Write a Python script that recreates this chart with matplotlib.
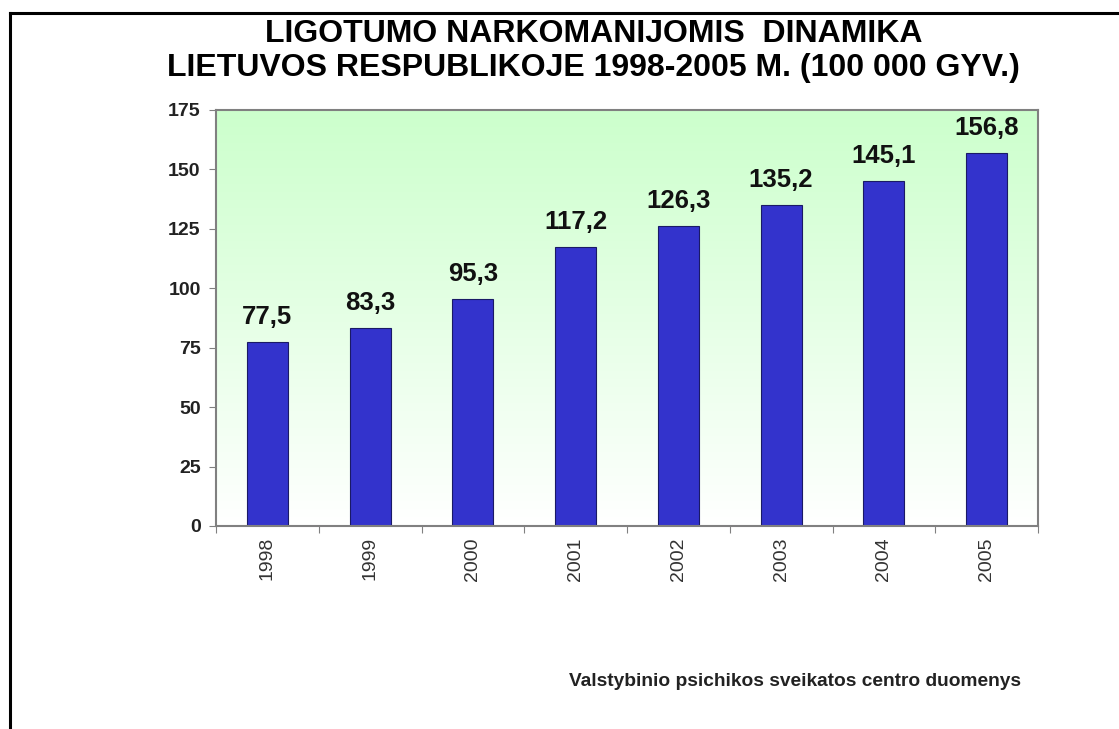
import numpy as np
import matplotlib.pyplot as plt
from matplotlib.colors import LinearSegmentedColormap

# Duomenys
metai = ['1998', '1999', '2000', '2001', '2002', '2003', '2004', '2005']
reiksmes = [77.5, 83.3, 95.3, 117.2, 126.3, 135.2, 145.1, 156.8]
reiksmiu_tekstai = ['77,5', '83,3', '95,3', '117,2', '126,3', '135,2', '145,1', '156,8']
y_ticks = [0, 25, 50, 75, 100, 125, 150, 175]

plt.rcParams['font.family'] = ['Liberation Sans', 'DejaVu Sans']

W, H = 1119, 729
fig = plt.figure(figsize=(W / 100, H / 100), dpi=100)

# Rėmelis (tik viršus ir kairė)
fig.add_artist(plt.Line2D([10 / W, 10 / W], [0, 1 - 13 / H], color='black', lw=2.2))
fig.add_artist(plt.Line2D([10 / W, 1], [1 - 13 / H, 1 - 13 / H], color='black', lw=2.2))

ax = fig.add_axes([216 / W, 1 - 526 / H, (1038 - 216) / W, (526 - 110) / H])

# Gradientinis fonas: šviesiai žalia viršuje -> balta apačioje
cmap = LinearSegmentedColormap.from_list('g', ['#ffffff', '#ccffcc'])
grad = np.linspace(0, 1, 256).reshape(-1, 1)
ax.imshow(grad, cmap=cmap, aspect='auto', extent=[-0.5, len(metai) - 0.5, 0, 175],
          origin='lower', zorder=0)

x = np.arange(len(metai))
ax.bar(x, reiksmes, width=0.4, color='#3333cc', edgecolor='#1a1a66', linewidth=0.8, zorder=2)

for xi, v, t in zip(x, reiksmes, reiksmiu_tekstai):
    ax.annotate(t, (xi, v), xytext=(0, 13), textcoords='offset points', ha='center',
                va='baseline', fontsize=18.5, fontweight='bold', color='#111111')

ax.set_xlim(-0.5, len(metai) - 0.5)
ax.set_ylim(0, 175)
ax.set_yticks(y_ticks)
ax.set_yticklabels([str(t) for t in y_ticks], fontsize=14, fontweight='bold', color='#222222')

# x žymės tarp kategorijų, etiketės centre
ax.set_xticks(np.arange(-0.5, len(metai) + 0.5, 1))
ax.set_xticklabels([])
ax.set_xticks(x, minor=True)
ax.set_xticklabels(metai, minor=True, rotation=90, fontsize=14, color='#333333')
ax.tick_params(axis='x', which='minor', length=0, pad=8)
ax.tick_params(axis='x', which='major', length=5, color='#808080', direction='out')
ax.tick_params(axis='y', length=5, color='#808080', direction='out', pad=6)

for s in ax.spines.values():
    s.set_color('#808080')
    s.set_linewidth(1.5)

fig.text(594 / W, 1 - 42 / H, 'LIGOTUMO NARKOMANIJOMIS  DINAMIKA', ha='center', va='baseline',
         fontsize=23, fontweight='bold')
fig.text(593 / W, 1 - 76 / H, 'LIETUVOS RESPUBLIKOJE 1998-2005 M. (100 000 GYV.)', ha='center',
         va='baseline', fontsize=23, fontweight='bold')

fig.text(1021 / W, 1 - 686 / H, 'Valstybinio psichikos sveikatos centro duomenys', ha='right',
         va='baseline', fontsize=13.8, fontweight='bold', color='#222222')

fig.savefig('out.png', dpi=100, facecolor='white')
